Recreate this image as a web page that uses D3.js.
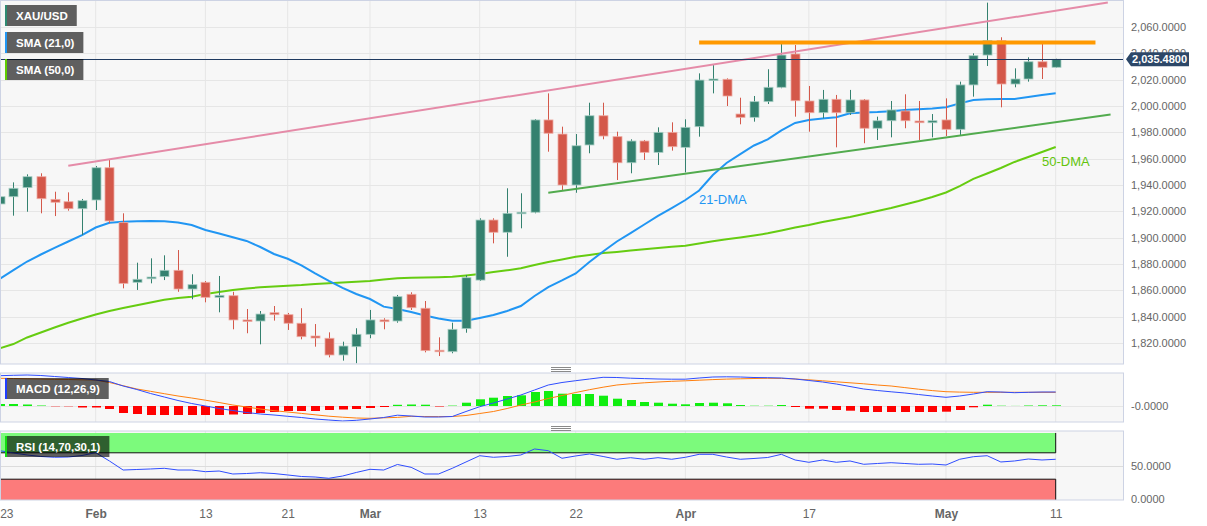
<!DOCTYPE html>
<html>
<head>
<meta charset="utf-8">
<script src="https://cdn.jsdelivr.net/npm/d3@7"></script>
<style>
html, body { margin: 0; padding: 0; background: #fff; }
svg { display: block; font-family: "Liberation Sans", Arial, sans-serif; }
</style>
</head>
<body>
<svg id="chart" width="1207" height="526"></svg>
<script>
// daily candles, XAU/USD, Jan 23 -> May 11 2023
var dates = [
  "2023-01-23","2023-01-24","2023-01-25","2023-01-26","2023-01-27","2023-01-30","2023-01-31",
  "2023-02-01","2023-02-02","2023-02-03","2023-02-06","2023-02-07","2023-02-08","2023-02-09","2023-02-10",
  "2023-02-13","2023-02-14","2023-02-15","2023-02-16","2023-02-17","2023-02-20","2023-02-21","2023-02-22",
  "2023-02-23","2023-02-24","2023-02-27","2023-02-28",
  "2023-03-01","2023-03-02","2023-03-03","2023-03-06","2023-03-07","2023-03-08","2023-03-09","2023-03-10",
  "2023-03-13","2023-03-14","2023-03-15","2023-03-16","2023-03-17","2023-03-20","2023-03-21","2023-03-22",
  "2023-03-23","2023-03-24","2023-03-27","2023-03-28","2023-03-29","2023-03-30","2023-03-31",
  "2023-04-03","2023-04-04","2023-04-05","2023-04-06","2023-04-10","2023-04-11","2023-04-12","2023-04-13",
  "2023-04-14","2023-04-17","2023-04-18","2023-04-19","2023-04-20","2023-04-21","2023-04-24","2023-04-25",
  "2023-04-26","2023-04-27","2023-04-28",
  "2023-05-01","2023-05-02","2023-05-03","2023-05-04","2023-05-05","2023-05-08","2023-05-09","2023-05-10","2023-05-11"
];

var open = [1925.6,1931.1,1938.0,1946.3,1929.1,1927.3,1922.0,1928.6,1953.1,1911.4,
  1866.1,1868.8,1870.4,1875.2,1861.0,1866.1,1854.7,1855.9,1837.5,1836.7,
  1843.0,1841.5,1835.0,1825.3,1823.6,1810.9,1817.2,1826.6,1837.5,1836.7,
  1857.0,1846.4,1814.5,1813.4,1830.9,1867.8,1913.4,1904.1,1918.2,1919.3,
  1989.4,1978.7,1940.0,1970.4,1992.6,1976.7,1956.9,1973.4,1964.8,1980.0,
  1968.6,1984.3,2019.7,2020.3,1993.9,1991.4,2003.3,2014.2,2039.5,2003.8,
  1994.9,2005.1,1994.9,2004.6,1983.1,1988.8,1996.2,1988.6,1987.3,1989.4,
  1982.3,2016.0,2038.7,2049.6,2016.7,2020.5,2033.6,2029.4];
var high = [1934.9,1942.0,1948.1,1948.9,1934.9,1934.4,1929.4,1954.4,1959.0,1918.5,
  1881.0,1884.3,1886.6,1890.6,1872.2,1867.1,1870.9,1858.9,1845.8,1844.3,
  1848.1,1842.8,1846.4,1834.4,1828.1,1821.0,1831.2,1845.1,1838.8,1856.5,
  1858.5,1851.9,1824.3,1835.4,1871.6,1914.7,1914.7,1937.5,1933.7,1990.1,
  2009.6,1984.3,1978.7,2002.5,2002.5,1980.5,1974.7,1974.2,1983.8,1987.6,
  1989.9,2024.8,2031.1,2021.0,2006.3,2007.6,2027.9,2047.6,2046.3,2015.2,
  2012.2,2008.4,2012.2,2005.3,1991.9,2003.8,2008.9,2003.8,1993.9,2005.8,
  2018.5,2040.0,2078.5,2052.2,2028.6,2037.0,2047.6,2035.9];
var low = [1912.1,1916.7,1919.7,1918.5,1916.4,1920.5,1902.0,1921.0,1910.9,1861.5,
  1860.3,1865.3,1867.8,1858.9,1853.2,1850.9,1843.3,1830.4,1827.4,1819.0,
  1837.0,1829.9,1822.8,1817.2,1809.1,1806.6,1804.6,1823.6,1830.4,1835.4,
  1845.1,1812.9,1810.1,1812.2,1827.8,1867.1,1895.7,1885.5,1907.1,1918.5,
  1965.3,1936.2,1934.1,1964.1,1974.7,1943.8,1948.9,1959.0,1955.2,1966.1,
  1949.6,1976.7,2009.6,2000.0,1986.1,1988.1,2001.5,2013.5,1991.9,1980.5,
  1990.7,1968.6,1993.2,1971.7,1974.2,1976.2,1983.1,1974.2,1976.2,1977.2,
  1978.0,2007.1,2030.4,1999.0,2014.2,2018.5,2020.5,2029.0];
var close = [1931.1,1937.5,1946.3,1929.6,1926.9,1922.0,1928.1,1953.1,1912.7,1865.3,
  1868.4,1870.1,1875.2,1861.0,1864.3,1854.7,1856.2,1837.5,1836.5,1842.0,
  1841.5,1835.0,1824.8,1823.8,1810.9,1817.7,1826.6,1837.5,1836.2,1855.2,
  1846.8,1814.2,1813.4,1830.4,1869.6,1913.4,1904.1,1918.5,1919.3,1989.4,
  1979.3,1940.0,1969.8,1992.6,1977.2,1956.9,1973.4,1964.8,1980.0,1969.1,
  1983.8,2019.7,2020.5,2007.6,1991.4,2003.3,2014.2,2038.7,2004.0,1994.9,
  2005.1,1994.9,2004.6,1983.1,1988.8,1997.0,1988.8,1987.3,1988.8,1982.3,
  2016.0,2038.2,2049.6,2016.7,2020.5,2033.6,2029.4,2035.48];

var sma21 = [1868.6,1875.4,1881.9,1887.2,1892.2,1897.1,1902.0,1907.7,1911.3,1912.1,
  1912.4,1912.7,1912.4,1911.5,1909.6,1905.8,1903.2,1900.3,1897.5,1892.9,
  1887.6,1884.0,1878.9,1872.8,1867.1,1861.8,1857.2,1853.4,1847.6,1845.8,
  1843.5,1840.9,1838.6,1836.9,1836.9,1839.0,1841.3,1844.3,1848.1,1855.7,
  1862.5,1867.5,1872.8,1881.5,1889.5,1897.1,1903.5,1910.0,1916.5,1922.5,
  1928.6,1935.8,1947.6,1956.7,1963.5,1970.0,1974.6,1981.5,1987.1,1989.4,
  1990.5,1991.4,1994.5,1995.1,1995.4,1996.0,1996.9,1997.5,1998.1,1999.0,
  2002.0,2004.6,2005.1,2005.3,2005.3,2006.8,2008.4,2009.6];
var sma50 = [1816.0,1819.2,1824.2,1828.0,1831.8,1835.4,1838.6,1841.6,1844.3,1846.6,
  1848.6,1850.8,1852.8,1854.2,1855.2,1857.2,1858.7,1860.3,1861.4,1862.3,
  1862.9,1863.5,1864.0,1864.8,1865.3,1865.9,1866.6,1867.1,1868.2,1869.1,
  1869.5,1869.7,1870.0,1870.3,1871.3,1872.4,1873.9,1875.2,1876.7,1879.2,
  1881.5,1883.4,1885.5,1886.8,1888.3,1889.2,1890.2,1891.2,1892.2,1893.1,
  1893.9,1895.6,1897.2,1898.8,1900.1,1901.6,1903.3,1905.4,1907.7,1909.6,
  1911.9,1913.8,1915.7,1918.0,1920.2,1922.5,1925.2,1927.8,1930.9,1934.3,
  1939.2,1944.6,1948.7,1952.9,1957.5,1961.3,1965.1,1968.9];

var macdLine = [30.3,30.7,31.0,30.5,29.5,28.5,27.5,26.0,24.5,20.0,
  16.5,12.5,9.0,5.5,2.5,0.0,-2.5,-4.5,-6.5,-8.0,
  -9.0,-10.3,-11.5,-13.0,-14.0,-15.0,-14.3,-13.0,-11.5,-9.2,
  -10.0,-11.0,-11.0,-10.5,-5.5,-0.7,3.0,7.0,11.0,16.0,
  21.0,23.5,25.3,27.0,28.7,28.5,27.8,27.4,27.0,26.8,
  26.8,28.0,29.0,29.2,29.0,28.5,28.3,28.0,27.0,25.5,
  24.0,22.0,19.5,17.0,15.5,14.2,13.0,11.5,10.0,8.7,
  10.0,12.0,14.3,14.0,13.3,13.7,14.0,14.0];
var signalLine = [27.7,27.5,27.2,27.0,26.7,26.5,26.2,26.0,23.5,20.3,
  17.0,14.7,12.3,10.0,8.0,5.8,3.5,1.0,-1.0,-3.0,
  -4.7,-6.0,-7.4,-8.8,-10.2,-11.2,-12.0,-12.3,-11.8,-11.4,
  -10.3,-10.5,-10.6,-10.5,-9.5,-7.5,-5.5,-2.5,1.0,4.0,
  7.5,10.5,13.5,16.3,18.8,21.0,22.2,23.2,24.0,24.7,
  25.2,25.8,26.4,26.9,27.2,27.5,27.7,27.6,27.0,26.2,
  25.2,24.2,23.2,22.2,21.0,20.0,18.4,16.8,15.4,14.3,
  13.9,13.7,13.7,13.7,13.7,13.7,13.7,13.7];
var macdHist = [2.0,2.0,1.5,0.5,-0.3,-0.3,-1.5,-1.5,-3.0,-7.0,
  -8.0,-9.0,-9.0,-9.0,-9.0,-9.0,-9.0,-8.5,-8.0,-7.0,
  -6.0,-5.0,-5.0,-5.0,-4.0,-3.5,-3.0,-2.0,-1.0,1.2,
  1.5,1.3,-0.5,0.4,3.3,6.7,8.3,10.0,10.7,14.0,
  15.0,12.3,12.0,12.0,10.3,7.3,6.0,4.0,3.3,2.3,
  1.7,3.0,3.3,2.7,1.0,0.3,0.3,1.0,-1.0,-2.7,
  -2.7,-4.0,-4.7,-6.0,-6.0,-6.0,-6.0,-6.0,-6.0,-5.7,
  -4.0,-1.3,1.3,0.3,0.1,0.5,0.7,0.7];

var rsi = [73.2,69.7,66.7,64.4,63.2,63.6,65.9,70.2,57.6,43.9,
  44.7,45.5,46.5,43.9,43.9,41.4,42.4,37.9,38.6,39.8,
  38.6,36.4,34.1,33.3,31.4,34.8,40.2,45.0,43.9,52.3,
  48.0,37.9,37.9,46.5,56.1,65.6,63.2,64.4,66.7,75.8,
  73.2,61.7,65.2,68.2,64.4,60.2,62.6,60.2,62.6,60.2,
  63.2,67.7,67.7,63.6,60.2,61.4,62.9,67.7,59.1,55.6,
  59.1,55.6,57.6,52.6,53.8,55.0,53.8,52.6,53.0,51.5,
  60.2,64.1,65.6,56.1,57.6,60.6,59.1,60.2];

var tickDates = ["2023-01-23","2023-02-01","2023-02-13","2023-02-21","2023-03-01","2023-03-13",
  "2023-03-22","2023-04-03","2023-04-17","2023-05-01","2023-05-11"];
var tickLabels = ["23","Feb","13","21","Mar","13","22","Apr","17","May","11"];
var priceTicks = [1820,1840,1860,1880,1900,1920,1940,1960,1980,2000,2020,2040,2060];
var lastPrice = 2035.48;

// drawn lines, [bar index, price]
var resistanceLine = [[5, 1954.7], [80.8, 2078.6]];
var topLevel = [[51, 2048.2], [79.9, 2048.2]];
var supportLine = [[40, 1934.1], [81, 1993.5]];

var svg = d3.select("#chart");
var plotW = 1123;
var gridColor = "#e6e6e6", borderColor = "#cdd3e4", axisColor = "#666";

var x = d3.scaleLinear().domain([0, dates.length - 1]).range([-0.3, 1055.7]);
var y = d3.scaleLinear().domain([1820, 2060]).range([343, 27]);
var yM = d3.scaleLinear().domain([-16, 33]).range([422, 373]);
var yR = d3.scaleLinear().domain([0, 100]).range([499, 433]);
var tickIdx = tickDates.map(function (d) { return dates.indexOf(d); });

var panels = [
  {id: "main", top: 0.5, bottom: 364},
  {id: "macd", top: 373, bottom: 422},
  {id: "rsi", top: 431, bottom: 500}
];

var defs = svg.append("defs");
panels.forEach(function (p) {
  defs.append("clipPath").attr("id", "clip-" + p.id)
    .append("rect").attr("x", 0).attr("y", p.top).attr("width", plotW).attr("height", p.bottom - p.top);
  svg.append("rect").attr("x", 0.5).attr("y", p.top).attr("width", plotW)
    .attr("height", p.bottom - p.top).attr("fill", "#f7f7f7");
  p.g = svg.append("g").attr("clip-path", "url(#clip-" + p.id + ")");
  // vertical grid
  p.g.selectAll(".vg").data(tickIdx).enter().append("line")
    .attr("x1", function (d) { return x(d); }).attr("x2", function (d) { return x(d); })
    .attr("y1", p.top).attr("y2", p.bottom).attr("stroke", gridColor);
});

var main = panels[0].g, macdG = panels[1].g, rsiG = panels[2].g;

// horizontal grid, main
main.selectAll(".hg").data(priceTicks).enter().append("line")
  .attr("x1", 0).attr("x2", plotW)
  .attr("y1", function (d) { return Math.round(y(d)) + 0.5; })
  .attr("y2", function (d) { return Math.round(y(d)) + 0.5; })
  .attr("stroke", gridColor);

var line = d3.line().x(function (d, i) { return x(i); });

main.append("path").datum(sma50).attr("fill", "none").attr("stroke", "#66cc11").attr("stroke-width", 2)
  .attr("d", line.y(function (d) { return y(d); }));
main.append("path").datum(sma21).attr("fill", "none").attr("stroke", "#2196f3").attr("stroke-width", 2)
  .attr("d", line.y(function (d) { return y(d); }));

// candles
var upCol = "#34816f", dnCol = "#d4584a";
var candles = main.selectAll(".candle").data(dates).enter().append("g");
candles.append("line")
  .attr("x1", function (d, i) { return Math.round(x(i)) + 0.5; })
  .attr("x2", function (d, i) { return Math.round(x(i)) + 0.5; })
  .attr("y1", function (d, i) { return y(high[i]); })
  .attr("y2", function (d, i) { return y(low[i]); })
  .attr("stroke", function (d, i) { return close[i] >= open[i] ? upCol : dnCol; });
candles.append("rect")
  .attr("x", function (d, i) { return Math.round(x(i)) - 4; })
  .attr("width", 9)
  .attr("y", function (d, i) { return y(Math.max(open[i], close[i])); })
  .attr("height", function (d, i) { return Math.max(1.5, Math.abs(y(open[i]) - y(close[i]))); })
  .attr("fill", function (d, i) { return close[i] >= open[i] ? upCol : dnCol; })
  .attr("stroke", function (d, i) { return close[i] >= open[i] ? "#a6cdc3" : "#eeaaa2"; })
  .attr("stroke-width", 0.8);

// trend lines
var tl = d3.line().x(function (d) { return x(d[0]); }).y(function (d) { return y(d[1]); });
main.append("path").datum(resistanceLine).attr("stroke", "#e58ba8").attr("stroke-width", 2).attr("fill", "none").attr("d", tl);
main.append("path").datum(supportLine).attr("stroke", "#52ab4e").attr("stroke-width", 2).attr("fill", "none").attr("d", tl);
main.append("path").datum(topLevel).attr("stroke", "#ff9900").attr("stroke-width", 4).attr("fill", "none").attr("d", tl);

// last price line
main.append("line").attr("x1", 0).attr("x2", plotW)
  .attr("y1", Math.round(y(lastPrice)) + 0.5).attr("y2", Math.round(y(lastPrice)) + 0.5)
  .attr("stroke", "#1f3a60");

main.append("text").attr("x", 699).attr("y", 203.5).attr("font-size", 13).attr("fill", "#2196f3").text("21-DMA");
main.append("text").attr("x", 1042).attr("y", 165.5).attr("font-size", 13).attr("fill", "#62c40c").text("50-DMA");

// price axis
var yAxis = svg.append("g").attr("transform", "translate(" + plotW + ",0)")
  .call(d3.axisRight(y).tickValues(priceTicks).tickFormat(d3.format(",.4f")).tickSize(0).tickPadding(8));
yAxis.select(".domain").remove();
yAxis.selectAll("text").attr("font-size", 11).attr("fill", axisColor).attr("font-family", null);

// current price tag
var py = y(lastPrice);
svg.append("path")
  .attr("d", "M1126," + py + "L1131," + (py - 7) + "H1189V" + (py + 7) + "H1131Z")
  .attr("fill", "#2c4768");
svg.append("text").attr("x", 1132).attr("y", py + 4).attr("font-size", 11).attr("font-weight", "bold")
  .attr("fill", "#fff").text(d3.format(",.4f")(lastPrice));

// MACD
macdG.append("line").attr("x1", 0).attr("x2", plotW).attr("y1", yM(0) + 0.5).attr("y2", yM(0) + 0.5).attr("stroke", gridColor);
macdG.selectAll(".bar").data(macdHist).enter().append("rect")
  .attr("x", function (d, i) { return Math.round(x(i)) - 4; })
  .attr("width", 9)
  .attr("y", function (d) { return d >= 0 ? yM(d) : yM(0); })
  .attr("height", function (d) { return Math.abs(yM(d) - yM(0)); })
  .attr("fill", function (d) { return d >= 0 ? "#11ee11" : "#ff0000"; });
macdG.append("path").datum(signalLine).attr("fill", "none").attr("stroke", "#ff7f0e").attr("stroke-width", 1)
  .attr("d", line.y(function (d) { return yM(d); }));
macdG.append("path").datum(macdLine).attr("fill", "none").attr("stroke", "#2f4dff").attr("stroke-width", 1)
  .attr("d", line.y(function (d) { return yM(d); }));
svg.append("text").attr("x", 1131).attr("y", yM(0) + 4).attr("font-size", 11).attr("fill", axisColor).text("-0.0000");

// RSI
var xEnd = x(dates.length - 1);
rsiG.append("rect").attr("x", 0).attr("width", xEnd).attr("y", yR(100)).attr("height", yR(70) - yR(100)).attr("fill", "#7cfa7c");
rsiG.append("rect").attr("x", 0).attr("width", xEnd).attr("y", yR(30)).attr("height", yR(0) - yR(30) + 2).attr("fill", "#fc7b7b");
rsiG.append("path").attr("fill", "none").attr("stroke", "#111")
  .attr("d", "M0.5," + yR(100) + "V" + yR(70) + "H" + xEnd + "V" + yR(100)
    + "M0.5," + (yR(0) + 2) + "V" + yR(30) + "H" + xEnd + "V" + (yR(0) + 2));
rsiG.append("line").attr("x1", 0).attr("x2", plotW).attr("y1", yR(50) + 0.5).attr("y2", yR(50) + 0.5).attr("stroke", "#dcdcdc");
rsiG.append("path").datum(rsi).attr("fill", "none").attr("stroke", "#2f4dff").attr("stroke-width", 1)
  .attr("d", line.y(function (d) { return yR(d); }));
[50, 0].forEach(function (v) {
  svg.append("text").attr("x", 1131).attr("y", yR(v) + 4).attr("font-size", 11).attr("fill", axisColor)
    .text(d3.format(".4f")(v));
});

// panel borders
panels.forEach(function (p) {
  svg.append("rect").attr("x", 0.5).attr("y", p.top).attr("width", plotW)
    .attr("height", p.bottom - p.top).attr("fill", "none").attr("stroke", borderColor);
});

// drag grips between panels
[367, 426].forEach(function (gy) {
  [0, 2, 4].forEach(function (o) {
    svg.append("line").attr("x1", 551).attr("x2", 571).attr("y1", gy + o + 0.5).attr("y2", gy + o + 0.5)
      .attr("stroke", "#8a8a8a");
  });
});

// date axis
var xAxis = svg.append("g").attr("transform", "translate(0,500)")
  .call(d3.axisBottom(x).tickValues(tickIdx).tickSize(0).tickPadding(9)
    .tickFormat(function (d) { return tickLabels[tickIdx.indexOf(d)]; }));
xAxis.select(".domain").remove();
xAxis.selectAll("text").attr("font-size", 12).attr("fill", axisColor).attr("font-family", null)
  .attr("font-weight", function (d) { return isNaN(+tickLabels[tickIdx.indexOf(d)]) ? "bold" : null; })
  .attr("text-anchor", function (d) { return x(d) < 10 ? "start" : "middle"; });

// legend tags
var tags = [
  {label: "XAU/USD", y: 5, color: "#2e8a72"},
  {label: "SMA (21,0)", y: 32, color: "#2196f3"},
  {label: "SMA (50,0)", y: 59, color: "#5fcc00"},
  {label: "MACD (12,26,9)", y: 378, color: "#1f3dff"},
  {label: "RSI (14,70,30,1)", y: 436, color: "#11dd11"}
];
tags.forEach(function (t) {
  var g = svg.append("g");
  var r = g.append("rect").attr("x", 5).attr("y", t.y).attr("height", 21).attr("fill", "rgba(0,0,0,0.615)");
  var tx = g.append("text").attr("x", 16).attr("y", t.y + 14.5).attr("font-size", 11.5)
    .attr("font-weight", "bold").attr("fill", "#fff").text(t.label);
  r.attr("width", tx.node().getComputedTextLength() + 20);
  g.append("rect").attr("x", 5).attr("y", t.y).attr("width", 2).attr("height", 21).attr("fill", t.color);
});
</script>
</body>
</html>
